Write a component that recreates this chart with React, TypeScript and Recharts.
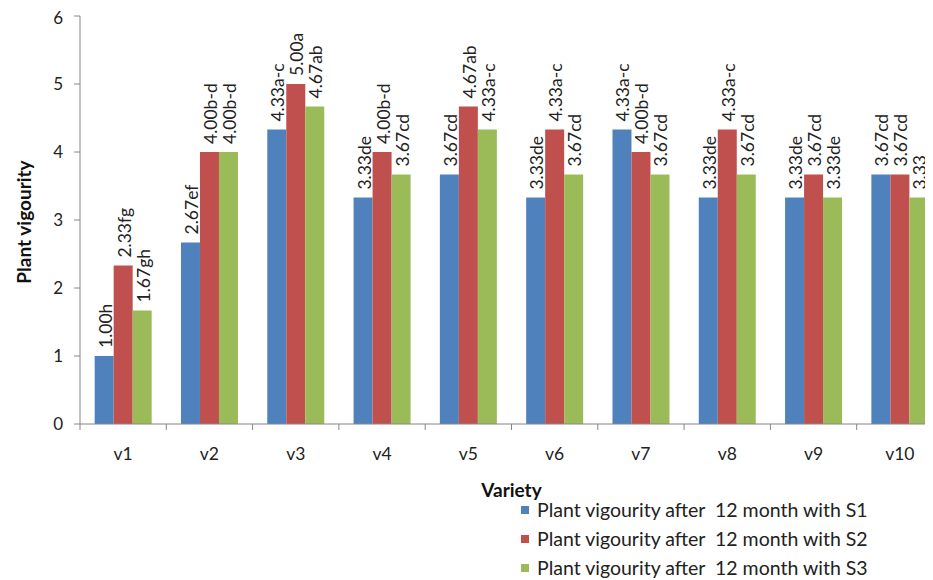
import { BarChart, Bar, XAxis, YAxis, LabelList, Label } from "recharts";

// varieties on the category axis
const varieties = ["v1", "v2", "v3", "v4", "v5", "v6", "v7", "v8", "v9", "v10"];

// mean plant vigour after 12 months for each treatment
const s1Values = [1.0, 2.67, 4.33, 3.33, 3.67, 3.33, 4.33, 3.33, 3.33, 3.67];
const s2Values = [2.33, 4.0, 5.0, 4.0, 4.67, 4.33, 4.0, 4.33, 3.67, 3.67];
const s3Values = [1.67, 4.0, 4.67, 3.67, 4.33, 3.67, 3.67, 3.67, 3.33, 3.33];

// significance letters printed after each value
const s1Letters = ["h", "ef", "a-c", "de", "cd", "de", "a-c", "de", "de", "cd"];
const s2Letters = ["fg", "b-d", "a", "b-d", "ab", "a-c", "b-d", "a-c", "cd", "cd"];
const s3Letters = ["gh", "b-d", "ab", "cd", "a-c", "cd", "cd", "cd", "de", ""];

const yTicks = [0, 1, 2, 3, 4, 5, 6];

const seriesNames = [
  "Plant vigourity after  12 month with S1",
  "Plant vigourity after  12 month with S2",
  "Plant vigourity after  12 month with S3",
];
const seriesColors = ["#4F81BD", "#C0504D", "#9BBB59"];

const data = varieties.map((v, i) => ({
  variety: v,
  s1: s1Values[i],
  s2: s2Values[i],
  s3: s3Values[i],
}));

const FONT = "Lato, 'Liberation Sans', sans-serif";
const AXIS = "#868686";

const makeValueLabel = (letters: string[]) => (props: any) => {
  const { x, y, width, value, index } = props;
  const cx = Number(x) + Number(width) / 2 + 1;
  const ty = Number(y) - 8;
  return (
    <text
      x={cx}
      y={ty}
      transform={`rotate(-90 ${cx} ${ty})`}
      textAnchor="start"
      dominantBaseline="central"
      fontSize={17.5}
      fontFamily={FONT}
      fill="#222"
    >
      {Number(value).toFixed(2) + letters[index]}
    </text>
  );
};

// category label in the middle, tick mark on the left boundary of each band
const VarietyTick = (props: any) => {
  const { x, y, payload } = props;
  const half = payload && payload.offset ? payload.offset : 43.15;
  const left = x - half;
  return (
    <g>
      <line x1={left} y1={y} x2={left} y2={y + 6} stroke={AXIS} />
      <text
        x={x}
        y={y + 36}
        textAnchor="middle"
        fontSize={17.5}
        fontFamily={FONT}
        fill="#222"
      >
        {payload.value}
      </text>
    </g>
  );
};

const LegendBox = () => (
  <div
    style={{
      position: "absolute",
      left: 513,
      top: 487,
      fontFamily: FONT,
      fontSize: 19.5,
      color: "#222",
    }}
  >
    {seriesNames.map((name, i) => (
      <div
        key={name}
        style={{ display: "flex", alignItems: "center", height: 29, whiteSpace: "pre" }}
      >
        <span
          style={{
            width: 8,
            height: 8,
            background: seriesColors[i],
            marginRight: 8,
          }}
        />
        {name}
      </div>
    ))}
  </div>
);

export default function App() {
  return (
    <div style={{ width: 925, height: 572, overflow: "hidden", position: "relative" }}>
      <BarChart
        width={938}
        height={572}
        data={data}
        margin={{ top: 8, right: 3, bottom: 116, left: 12 }}
        barCategoryGap="17%"
        barGap={0}
      >
        <XAxis
          dataKey="variety"
          height={40}
          stroke={AXIS}
          tickLine={false}
          tickSize={0}
          tickMargin={0}
          tick={<VarietyTick />}
          interval={0}
        >
          <Label
            content={(p: any) => {
              const vb = p.viewBox;
              return (
                <text
                  x={vb.x + vb.width / 2}
                  y={vb.y + 73}
                  textAnchor="middle"
                  fontSize={19}
                  fontWeight="bold"
                  fontFamily={FONT}
                  fill="#111"
                >
                  Variety
                </text>
              );
            }}
          />
        </XAxis>
        <YAxis
          width={60}
          domain={[0, 6]}
          ticks={yTicks}
          stroke={AXIS}
          tickSize={6}
          tickMargin={11}
          tick={{ fill: "#222", fontSize: 17, fontFamily: FONT }}
        >
          <Label
            content={(p: any) => {
              const vb = p.viewBox;
              const lx = vb.x + 3;
              const ly = vb.y + vb.height / 2 + 2;
              return (
                <text
                  x={lx}
                  y={ly}
                  transform={`rotate(-90 ${lx} ${ly})`}
                  textAnchor="middle"
                  dominantBaseline="central"
                  fontSize={19}
                  fontWeight="bold"
                  fontFamily={FONT}
                  fill="#111"
                >
                  Plant vigourity
                </text>
              );
            }}
          />
        </YAxis>
        <Bar dataKey="s1" name={seriesNames[0]} fill={seriesColors[0]} isAnimationActive={false}>
          <LabelList dataKey="s1" content={makeValueLabel(s1Letters)} />
        </Bar>
        <Bar dataKey="s2" name={seriesNames[1]} fill={seriesColors[1]} isAnimationActive={false}>
          <LabelList dataKey="s2" content={makeValueLabel(s2Letters)} />
        </Bar>
        <Bar dataKey="s3" name={seriesNames[2]} fill={seriesColors[2]} isAnimationActive={false}>
          <LabelList dataKey="s3" content={makeValueLabel(s3Letters)} />
        </Bar>
      </BarChart>
      <LegendBox />
    </div>
  );
}
